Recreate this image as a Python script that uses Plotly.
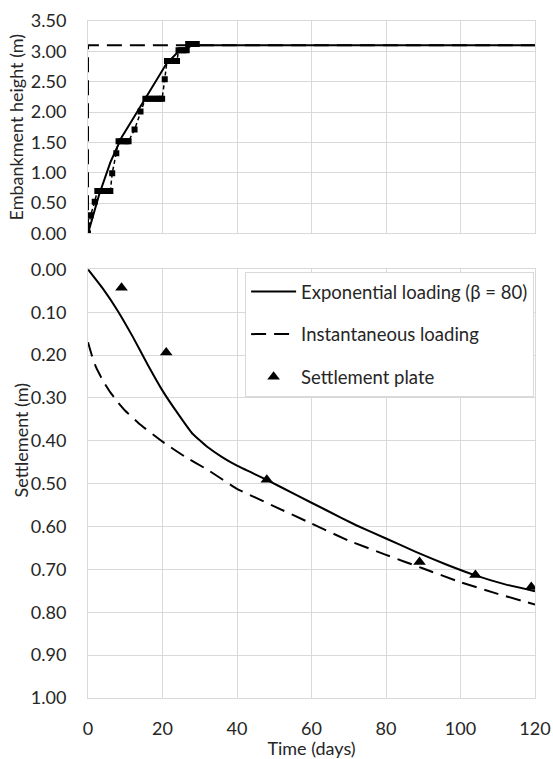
import plotly.graph_objects as go
from plotly.subplots import make_subplots

# ---------------- data ----------------
# Top: embankment height (m) vs time (days)
exp_load_t = [0, 3, 6, 9, 12, 15, 18, 21, 24, 27, 28, 120]
exp_load_h = [0, 0.64, 1.17, 1.58, 1.88, 2.18, 2.5, 2.79, 2.98, 3.08, 3.1, 3.1]

inst_load_t = [0, 0, 120]
inst_load_h = [0, 3.1, 3.1]

meas_t = [0, 0.7, 1.8, 2.5, 3.2, 4.0, 4.8, 5.5, 6.0, 6.5, 7.6, 8.2, 9.0, 9.8, 10.5, 10.9,
          12.5, 14.1, 15.4, 16.2, 17.0, 17.8, 18.6, 19.3, 19.9, 20.6, 21.2, 22.0, 22.8,
          23.5, 23.9, 24.3, 25.0, 25.8, 26.5, 26.9, 27.6, 28.4, 29.2]
meas_h = [0, 0.30, 0.52, 0.70, 0.70, 0.70, 0.70, 0.70, 0.70, 0.99, 1.32, 1.52, 1.52, 1.52, 1.52, 1.52,
          1.71, 2.01, 2.22, 2.22, 2.22, 2.22, 2.22, 2.22, 2.22, 2.54, 2.84, 2.84, 2.84,
          2.84, 2.84, 3.02, 3.02, 3.02, 3.02, 3.12, 3.12, 3.12, 3.12]

# Bottom: settlement (m) vs time (days)
exp_set_t = [0, 4, 8, 12, 16, 20, 24, 28, 32, 36, 40, 48, 56, 64, 72, 80, 88, 96, 104, 112, 120]
exp_set_s = [0, 0.045, 0.097, 0.157, 0.222, 0.283, 0.335, 0.383, 0.414, 0.438, 0.458, 0.491,
             0.527, 0.562, 0.597, 0.628, 0.659, 0.688, 0.714, 0.735, 0.751]

inst_set_t = [0, 1, 2, 3, 4, 6, 8, 10, 14, 20, 26, 32, 40, 50, 60, 70, 80, 90, 100, 110, 120]
inst_set_s = [0.17, 0.20, 0.225, 0.243, 0.26, 0.287, 0.31, 0.33, 0.362, 0.402, 0.437, 0.467,
              0.512, 0.553, 0.593, 0.633, 0.666, 0.698, 0.730, 0.757, 0.782]

plate_t = [9, 21, 48, 89, 104, 119]
plate_s = [0.043, 0.194, 0.491, 0.683, 0.713, 0.741]

y_top_ticks = [0, 0.5, 1.0, 1.5, 2.0, 2.5, 3.0, 3.5]
y_bot_ticks = [0, 0.1, 0.2, 0.3, 0.4, 0.5, 0.6, 0.7, 0.8, 0.9, 1.0]
x_ticks = [0, 20, 40, 60, 80, 100, 120]

# ---------------- figure ----------------
FONT = "Lato"
TXT = "#262626"
GRID = "#d9d9d9"
TICK_SIZE = 18
TITLE_SIZE = 18
LEG_SIZE = 18.5

fig = make_subplots(rows=2, cols=1, shared_xaxes=False)

fig.add_trace(go.Scatter(x=inst_load_t, y=inst_load_h, mode="lines",
                         line=dict(color="black", width=2, dash="15px,8px"),
                         showlegend=False), row=1, col=1)
fig.add_trace(go.Scatter(x=meas_t, y=meas_h, mode="lines+markers",
                         line=dict(color="black", width=1.5, dash="4px,3px"),
                         marker=dict(symbol="square", size=6, color="black"),
                         showlegend=False), row=1, col=1)
fig.add_trace(go.Scatter(x=exp_load_t, y=exp_load_h, mode="lines",
                         line=dict(color="black", width=2),
                         showlegend=False), row=1, col=1)

fig.add_trace(go.Scatter(x=exp_set_t, y=exp_set_s, mode="lines", name="Exponential loading (β = 80)",
                         line=dict(color="black", width=2, shape="spline", smoothing=0.3),
                         legendgroup="a"), row=2, col=1)
fig.add_trace(go.Scatter(x=inst_set_t, y=inst_set_s, mode="lines", name="Instantaneous loading",
                         line=dict(color="black", width=2, dash="15px,8px", shape="spline", smoothing=0.3),
                         legendgroup="b"), row=2, col=1)
fig.add_trace(go.Scatter(x=plate_t, y=plate_s, mode="markers", name="Settlement plate",
                         marker=dict(symbol="triangle-up", size=11, color="black"),
                         legendgroup="c"), row=2, col=1)

axis_common = dict(showgrid=True, gridcolor=GRID, gridwidth=1, zeroline=False,
                   showline=True, linecolor=GRID, linewidth=1, mirror=True,
                   tickfont=dict(family=FONT, size=TICK_SIZE, color=TXT), ticks="")

fig.update_xaxes(range=[0, 120], tickvals=x_ticks, **axis_common)
fig.update_xaxes(showticklabels=False, row=1, col=1)
fig.update_xaxes(ticklabelstandoff=14,
                 title=dict(text="Time (days)", font=dict(family=FONT, size=TITLE_SIZE, color=TXT), standoff=9),
                 row=2, col=1)

fig.update_yaxes(**axis_common)
fig.update_yaxes(range=[0, 3.5], tickvals=y_top_ticks, tickformat=".2f", ticklabelstandoff=17,
                 title=dict(text="Embankment height (m)", font=dict(family=FONT, size=TITLE_SIZE, color=TXT),
                            standoff=2),
                 row=1, col=1)
fig.update_yaxes(range=[1.0, 0.0], tickvals=y_bot_ticks, tickformat=".2f", ticklabelstandoff=17,
                 row=2, col=1)

fig.add_annotation(text="Settlement (m)", textangle=-90, xref="paper", yref="paper",
                   x=-0.1507, y=0.38, xanchor="center", yanchor="middle", showarrow=False,
                   font=dict(family=FONT, size=TITLE_SIZE, color=TXT))

fig.update_layout(
    width=553, height=759,
    margin=dict(l=87.5, r=17.5, t=20.7, b=60.5, autoexpand=False),
    paper_bgcolor="white", plot_bgcolor="white",
    xaxis=dict(domain=[0, 1]), xaxis2=dict(domain=[0, 1]),
    yaxis=dict(domain=[0.6863, 1.0]), yaxis2=dict(domain=[0.0, 0.6332]),
    legend=dict(x=0.998, xanchor="right", y=0.6292, yanchor="top",
                bgcolor="white", bordercolor=GRID, borderwidth=1,
                font=dict(family=FONT, size=LEG_SIZE, color=TXT),
                traceorder="grouped", tracegroupgap=15.5, itemwidth=45),
    font=dict(family=FONT, color=TXT),
)

fig.write_html("out.html", config={"displayModeBar": False},
               post_script="document.body.style.margin='0';document.body.style.overflow='hidden';")
